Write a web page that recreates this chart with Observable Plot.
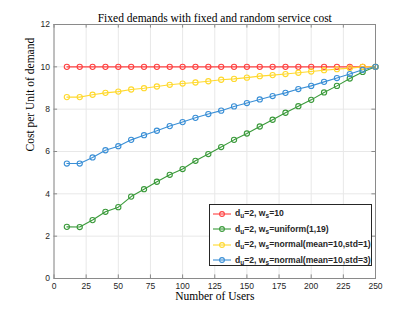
<!DOCTYPE html>
<html>
<head>
<meta charset="utf-8">
<script src="https://cdn.jsdelivr.net/npm/d3@7"></script>
<script src="https://cdn.jsdelivr.net/npm/@observablehq/plot@0.6"></script>
<style>
  html, body { margin: 0; padding: 0; background: #fff; }
  #wrap { position: relative; width: 415px; height: 312px; }
  #legend {
    position: absolute; left: 209px; top: 204px; width: 161px; height: 60px;
    border: 1px solid #262626; background: #fff;
    font-family: "Liberation Sans", Arial, sans-serif; font-weight: bold; font-size: 8.6px; color: #262626;
    box-sizing: content-box;
  }
  .item { position: absolute; left: 0; height: 16px; display: flex; align-items: center; white-space: nowrap; }
  .item svg { margin-left: 3px; margin-right: 4px; }
  sub { font-size: 6.5px; vertical-align: -2px; }
</style>
</head>
<body>
<div id="wrap"></div>
<script>
const users = [10,20,30,40,50,60,70,80,90,100,110,120,130,140,150,160,170,180,190,200,210,220,230,240,250];
const fixedCost = [10,10,10,10,10,10,10,10,10,10,10,10,10,10,10,10,10,10,10,10,10,10,10,10,10];
const uniformCost = [2.44,2.43,2.76,3.15,3.37,3.87,4.22,4.57,4.90,5.17,5.56,5.88,6.21,6.55,6.85,7.18,7.50,7.83,8.14,8.44,8.79,9.10,9.45,9.76,10.0];
const normal1Cost = [8.57,8.57,8.68,8.77,8.83,8.93,8.99,9.07,9.15,9.21,9.26,9.32,9.39,9.43,9.49,9.56,9.61,9.66,9.72,9.78,9.84,9.89,9.94,10.0,10.0];
const normal3Cost = [5.43,5.43,5.72,6.06,6.25,6.55,6.77,6.98,7.20,7.39,7.59,7.77,7.93,8.13,8.29,8.46,8.62,8.77,8.95,9.10,9.29,9.47,9.66,9.86,10.0];
const seriesNames = ["fixed", "uniform", "normal1", "normal3"];
const seriesColors = ["#ff4040", "#3a9a3a", "#ffd92e", "#3a8fd6"];
const seriesLabels = [
  "d<sub>u</sub>=2, w<sub>s</sub>=10",
  "d<sub>u</sub>=2, w<sub>s</sub>=uniform(1,19)",
  "d<sub>u</sub>=2, w<sub>s</sub>=normal(mean=10,std=1)",
  "d<sub>u</sub>=2, w<sub>s</sub>=normal(mean=10,std=3)"
];
const xTicks = [0,25,50,75,100,125,150,175,200,225,250];
const yTicks = [0,2,4,6,8,10,12];
const title = "Fixed demands with fixed and random service cost";
const xLabel = "Number of Users";
const yLabel = "Cost per Unit of demand";

const allSeries = [fixedCost, uniformCost, normal1Cost, normal3Cost];
const data = [];
allSeries.forEach((vals, s) => vals.forEach((v, i) => data.push({x: users[i], y: v, s: seriesNames[s]})));

const axisColor = "#262626";
const frameColor = "#8a8a8a";
const serif = "'Liberation Serif','Times New Roman',serif";

const chart = Plot.plot({
  width: 415, height: 312,
  marginLeft: 53.5, marginRight: 40, marginTop: 24, marginBottom: 34,
  style: {fontFamily: "'Liberation Sans', Arial, sans-serif", fontSize: "8.5px", color: axisColor, background: "#fff"},
  x: {domain: [0, 250], ticks: xTicks, label: null},
  y: {domain: [0, 12], ticks: yTicks, label: null},
  color: {domain: seriesNames, range: seriesColors},
  marks: [
    Plot.gridX(xTicks, {stroke: "#e8e8e8", strokeOpacity: 1}),
    Plot.gridY(yTicks, {stroke: "#e8e8e8", strokeOpacity: 1}),
    Plot.frame({stroke: frameColor, strokeWidth: 1}),
    Plot.ruleX(xTicks, {x: d => d, y1: 0, y2: 0.17, stroke: frameColor}),
    Plot.ruleX(xTicks, {x: d => d, y1: 12, y2: 11.83, stroke: frameColor}),
    Plot.ruleY(yTicks, {y: d => d, x1: 0, x2: 2.8, stroke: frameColor}),
    Plot.ruleY(yTicks, {y: d => d, x1: 250, x2: 247.2, stroke: frameColor}),
    Plot.axisX(xTicks, {tickSize: 0, tickPadding: 4, fill: axisColor}),
    Plot.axisY(yTicks, {tickSize: 0, tickPadding: 4, fill: axisColor}),
    Plot.line(data, {x: "x", y: "y", z: "s", stroke: "s", strokeWidth: 1.1}),
    Plot.dot(data, {x: "x", y: "y", stroke: "s", r: 2.6, strokeWidth: 1.1, fill: "none"}),
    Plot.text([title], {text: d => d, frameAnchor: "top", dy: -11, fontFamily: serif, fontSize: 11.5, fill: "#000"}),
    Plot.text([xLabel], {text: d => d, frameAnchor: "bottom", dy: 21, fontFamily: serif, fontSize: 11.5, fill: "#000"}),
    Plot.text([yLabel], {text: d => d, frameAnchor: "left", dx: -24, rotate: -90, fontFamily: serif, fontSize: 11.5, fill: "#000"})
  ]
});

const wrap = document.getElementById("wrap");
wrap.appendChild(chart);

const legend = document.createElement("div");
legend.id = "legend";
seriesLabels.forEach((lab, i) => {
  const item = document.createElement("div");
  item.className = "item";
  item.style.top = (i * 15.5 + 0.5) + "px";
  const c = seriesColors[i];
  item.innerHTML = `<svg width="18" height="8"><line x1="0" y1="4" x2="18" y2="4" stroke="${c}" stroke-width="1.1"/><circle cx="9" cy="4" r="2.4" fill="none" stroke="${c}" stroke-width="1.1"/></svg><span>${lab}</span>`;
  legend.appendChild(item);
});
wrap.appendChild(legend);
</script>
</body>
</html>
